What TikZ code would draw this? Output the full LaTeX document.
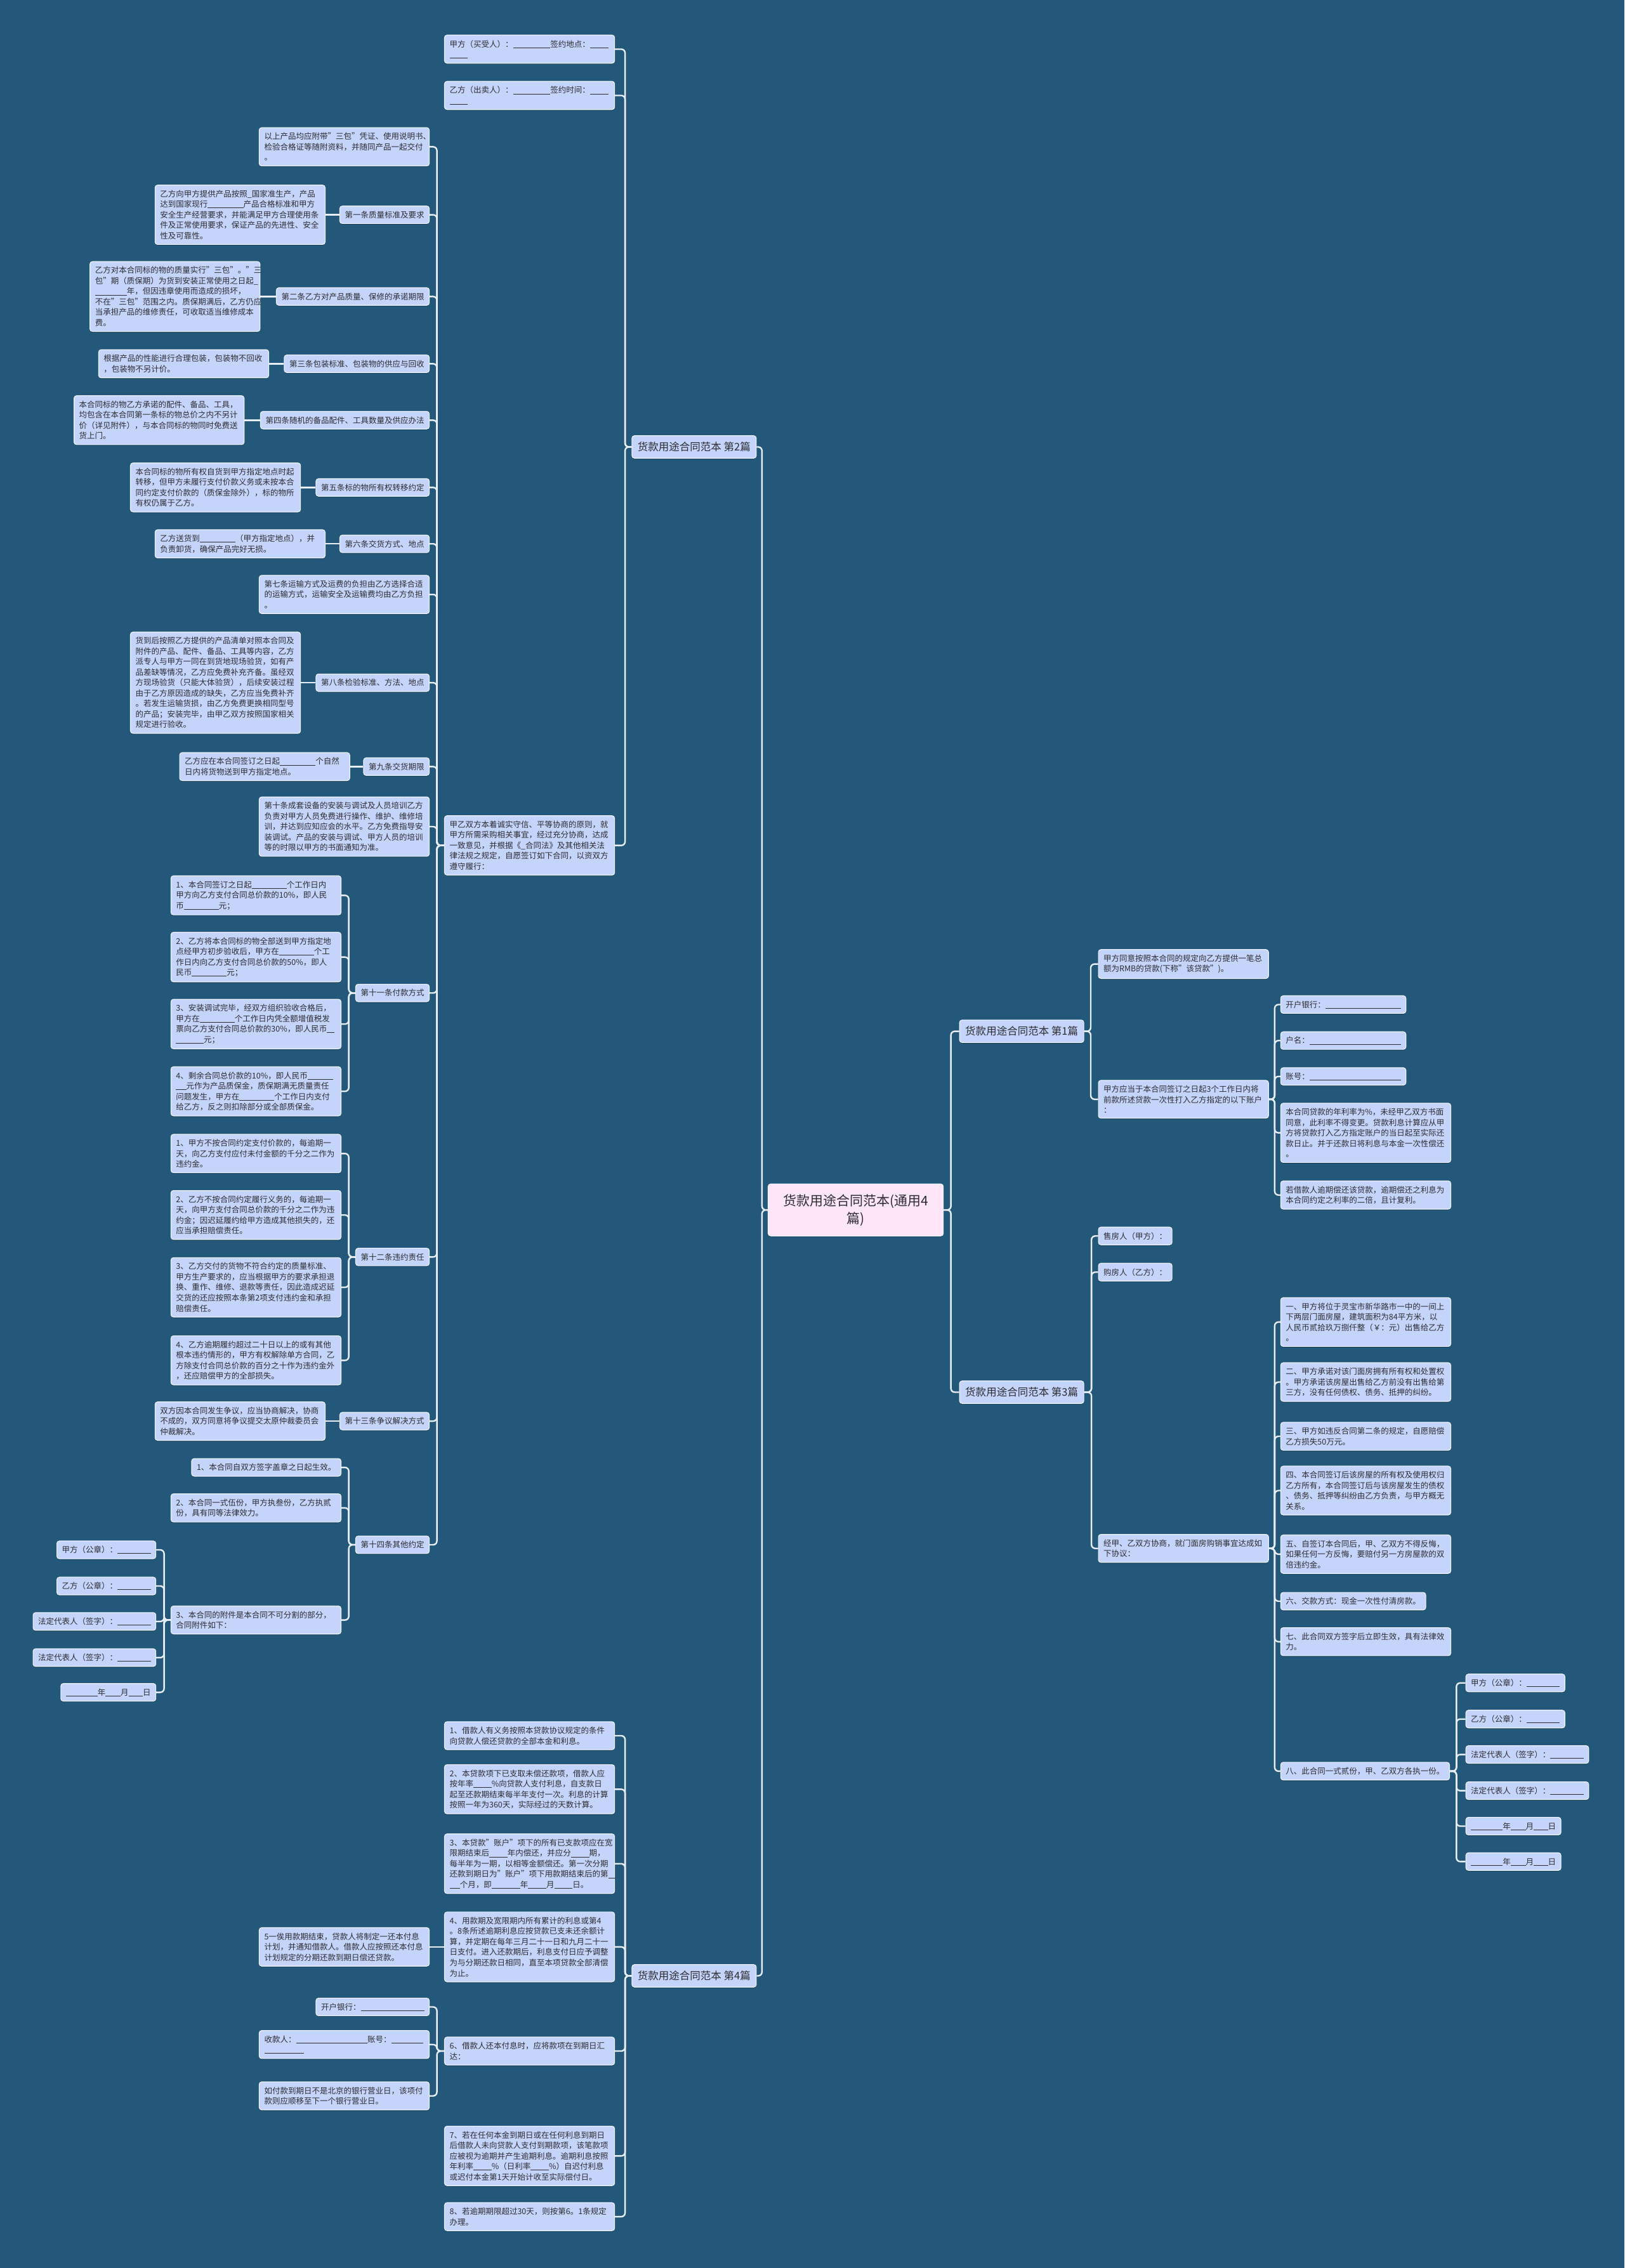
\documentclass[tikz,border=0pt]{standalone}
\usepackage{fontspec}
\setmainfont{Noto Sans CJK SC}
\usetikzlibrary{shadows}
\definecolor{bgblue}{RGB}{35,88,122}
\definecolor{nodefill}{RGB}{196,212,250}
\definecolor{nodeline}{RGB}{235,242,255}
\definecolor{linecol}{RGB}{232,238,245}
\definecolor{rootfill}{RGB}{253,230,248}
\definecolor{txt}{RGB}{45,45,50}
\newcommand{\fillin}[1]{\rule[-1.2pt]{#1}{0.6pt}}
\tikzset{
  box/.style={draw=nodeline, line width=1.2pt, fill=nodefill, rounded corners=4pt, text=txt,
    font=\fontsize{12.5pt}{16.5pt}\selectfont, inner xsep=8pt, inner ysep=8pt, align=left,
    drop shadow={shadow xshift=0pt, shadow yshift=-1.5pt, opacity=.3, fill=black}},
  para/.style={box, text width=252pt},
  branch/.style={box, font=\fontsize{16.5pt}{20pt}\selectfont, inner xsep=9pt, inner ysep=10pt},
  root/.style={box, fill=rootfill, font=\fontsize{21pt}{28pt}\selectfont, align=center,
    text width=240pt, inner xsep=18pt, inner ysep=16pt},
  link/.style={draw=linecol, line width=2.4pt, rounded corners=6pt}
}

\begin{document}
\begin{tikzpicture}[x=2.2796pt,y=-2.2796pt]
    \fill[bgblue] (0,0) rectangle (1123,1568);
    \useasboundingbox (0,0) rectangle (1123,1568);

    % centre and the four parts
    \node[root] (root) at (591.5,836.5) {货款用途合同范本(通用4\\篇)};
    \node[branch,anchor=east] (b2) at (523,309) {货款用途合同范本 第2篇};
    \node[branch,anchor=east] (b4) at (523,1366) {货款用途合同范本 第4篇};
    \node[branch,anchor=west] (b1) at (663,713) {货款用途合同范本 第1篇};
    \node[branch,anchor=west] (b3) at (663,962.5) {货款用途合同范本 第3篇};

    % part 2
    \node[para,anchor=west] (t1) at (307,34) {甲方（买受人）：\fillin{4.7em}签约地点：\fillin{2.3em}\\\fillin{2.3em}};
    \node[para,anchor=west] (t2) at (307,66) {乙方（出卖人）：\fillin{4.7em}签约时间：\fillin{2.3em}\\\fillin{2.3em}};
    \node[para,anchor=west] (main) at (307,584.5) {甲乙双方本着诚实守信、平等协商的原则，就\\甲方所需采购相关事宜，经过充分协商，达成\\一致意见，并根据《\_合同法》及其他相关法\\律法规之规定，自愿签订如下合同，以资双方\\遵守履行：};

    \node[para,anchor=east] (c0) at (297,101.5) {以上产品均应附带"三包"凭证、使用说明书、\\检验合格证等随附资料，并随同产品一起交付\\。};
    \node[box,anchor=east] (c1) at (297,148.5) {第一条质量标准及要求};
    \node[para,anchor=east] (d1) at (225,148.5) {乙方向甲方提供产品按照\_国家准生产，产品\\达到国家现行\fillin{4.5em}产品合格标准和甲方\\安全生产经营要求，并能满足甲方合理使用条\\件及正常使用要求，保证产品的先进性、安全\\性及可靠性。};
    \node[box,anchor=east] (c2) at (297,205) {第二条乙方对产品质量、保修的承诺期限};
    \node[para,anchor=east] (d2) at (180,205) {乙方对本合同标的物的质量实行"三包"。"三\\包"期（质保期）为货到安装正常使用之日起\_\\\fillin{4em}年，但因违章使用而造成的损坏，\\不在"三包"范围之内。质保期满后，乙方仍应\\当承担产品的维修责任，可收取适当维修成本\\费。};
    \node[box,anchor=east] (c3) at (297,251.5) {第三条包装标准、包装物的供应与回收};
    \node[para,anchor=east] (d3) at (186,251.5) {根据产品的性能进行合理包装，包装物不回收\\，包装物不另计价。};
    \node[box,anchor=east] (c4) at (297,290.5) {第四条随机的备品配件、工具数量及供应办法};
    \node[para,anchor=east] (d4) at (169,290.5) {本合同标的物乙方承诺的配件、备品、工具，\\均包含在本合同第一条标的物总价之内不另计\\价（详见附件），与本合同标的物同时免费送\\货上门。};
    \node[box,anchor=east] (c5) at (297,337) {第五条标的物所有权转移约定};
    \node[para,anchor=east] (d5) at (208,337) {本合同标的物所有权自货到甲方指定地点时起\\转移，但甲方未履行支付价款义务或未按本合\\同约定支付价款的（质保金除外），标的物所\\有权仍属于乙方。};
    \node[box,anchor=east] (c6) at (297,376) {第六条交货方式、地点};
    \node[para,anchor=east] (d6) at (225,376) {乙方送货到\fillin{4.5em}（甲方指定地点），并\\负责卸货，确保产品完好无损。};
    \node[para,anchor=east] (c7) at (297,411) {第七条运输方式及运费的负担由乙方选择合适\\的运输方式，运输安全及运输费均由乙方负担\\。};
    \node[box,anchor=east] (c8) at (297,472) {第八条检验标准、方法、地点};
    \node[para,anchor=east] (d8) at (208,472) {货到后按照乙方提供的产品清单对照本合同及\\附件的产品、配件、备品、工具等内容，乙方\\派专人与甲方一同在到货地现场验货，如有产\\品差缺等情况，乙方应免费补充齐备。虽经双\\方现场验货（只能大体验货），后续安装过程\\由于乙方原因造成的缺失，乙方应当免费补齐\\。若发生运输货损，由乙方免费更换相同型号\\的产品；安装完毕，由甲乙双方按照国家相关\\规定进行验收。};
    \node[box,anchor=east] (c9) at (297,530) {第九条交货期限};
    \node[para,anchor=east] (d9) at (242,530) {乙方应在本合同签订之日起\fillin{4.5em}个自然\\日内将货物送到甲方指定地点。};
    \node[para,anchor=east] (c10) at (297,571.5) {第十条成套设备的安装与调试及人员培训乙方\\负责对甲方人员免费进行操作、维护、维修培\\训，并达到应知应会的水平。乙方免费指导安\\装调试。产品的安装与调试、甲方人员的培训\\等的时限以甲方的书面通知为准。};

    \node[box,anchor=east] (c11) at (297,686.5) {第十一条付款方式};
    \node[para,anchor=east] (p1) at (236,619) {1、本合同签订之日起\fillin{4.4em}个工作日内\\甲方向乙方支付合同总价款的10\%，即人民\\币\fillin{4.4em}元；};
    \node[para,anchor=east] (p2) at (236,661.7) {2、乙方将本合同标的物全部送到甲方指定地\\点经甲方初步验收后，甲方在\fillin{4.4em}个工\\作日内向乙方支付合同总价款的50\%，即人\\民币\fillin{4.4em}元；};
    \node[para,anchor=east] (p3) at (236,708) {3、安装调试完毕，经双方组织验收合格后，\\甲方在\fillin{4.4em}个工作日内凭全额增值税发\\票向乙方支付合同总价款的30\%，即人民币\fillin{0.9em}\\\fillin{3.5em}元；};
    \node[para,anchor=east] (p4) at (236,754.5) {4、剩余合同总价款的10\%，即人民币\fillin{3.2em}\\\fillin{1.3em}元作为产品质保金，质保期满无质量责任\\问题发生，甲方在\fillin{4.4em}个工作日内支付\\给乙方，反之则扣除部分或全部质保金。};

    \node[box,anchor=east] (c12) at (297,869) {第十二条违约责任};
    \node[para,anchor=east] (q1) at (236,797.5) {1、甲方不按合同约定支付价款的，每逾期一\\天，向乙方支付应付未付金额的千分之二作为\\违约金。};
    \node[para,anchor=east] (q2) at (236,840) {2、乙方不按合同约定履行义务的，每逾期一\\天，向甲方支付合同总价款的千分之二作为违\\约金；因迟延履约给甲方造成其他损失的，还\\应当承担赔偿责任。};
    \node[para,anchor=east] (q3) at (236,890) {3、乙方交付的货物不符合约定的质量标准、\\甲方生产要求的，应当根据甲方的要求承担退\\换、重作、维修、退款等责任，因此造成迟延\\交货的还应按照本条第2项支付违约金和承担\\赔偿责任。};
    \node[para,anchor=east] (q4) at (236,940.5) {4、乙方逾期履约超过二十日以上的或有其他\\根本违约情形的，甲方有权解除单方合同，乙\\方除支付合同总价款的百分之十作为违约金外\\，还应赔偿甲方的全部损失。};

    \node[box,anchor=east] (c13) at (297,982.5) {第十三条争议解决方式};
    \node[para,anchor=east] (d13) at (225,982.5) {双方因本合同发生争议，应当协商解决，协商\\不成的，双方同意将争议提交太原仲裁委员会\\仲裁解决。};

    \node[box,anchor=east] (c14) at (297,1068) {第十四条其他约定};
    \node[box,anchor=east] (r1) at (236,1014.5) {1、本合同自双方签字盖章之日起生效。};
    \node[para,anchor=east] (r2) at (236,1042.5) {2、本合同一式伍份，甲方执叁份，乙方执贰\\份，具有同等法律效力。};
    \node[para,anchor=east] (r3) at (236,1120) {3、本合同的附件是本合同不可分割的部分，\\合同附件如下：};
    \node[box,anchor=east] (s1) at (108,1071.5) {甲方（公章）：\fillin{4.2em}};
    \node[box,anchor=east] (s2) at (108,1096.5) {乙方（公章）：\fillin{4.2em}};
    \node[box,anchor=east] (s3) at (108,1121) {法定代表人（签字）：\fillin{4.2em}};
    \node[box,anchor=east] (s4) at (108,1146) {法定代表人（签字）：\fillin{4.2em}};
    \node[box,anchor=east] (s5) at (108,1170) {\fillin{4em}年\fillin{1.9em}月\fillin{1.8em}日};

    % part 4
    \node[para,anchor=west] (k1) at (307,1200) {1、借款人有义务按照本贷款协议规定的条件\\向贷款人偿还贷款的全部本金和利息。};
    \node[para,anchor=west] (k2) at (307,1237) {2、本贷款项下已支取未偿还款项，借款人应\\按年率\fillin{2.3em}\%向贷款人支付利息，自支款日\\起至还款期结束每半年支付一次。利息的计算\\按照一年为360天，实际经过的天数计算。};
    \node[para,anchor=west] (k3) at (307,1288.5) {3、本贷款"账户"项下的所有已支款项应在宽\\限期结束后\fillin{2.3em}年内偿还，并应分\fillin{2.3em}期，\\每半年为一期，以相等金额偿还。第一次分期\\还款到期日为"账户"项下用款期结束后的第\fillin{0.9em}\\\fillin{1.3em}个月，即\fillin{3.6em}年\fillin{2.3em}月\fillin{2.3em}日。};
    \node[para,anchor=west] (k4) at (307,1346) {4、用款期及宽限期内所有累计的利息或第4\\。8条所述逾期利息应按贷款已支未还余额计\\算，并定期在每年三月二十一日和九月二十一\\日支付。进入还款期后，利息支付日应予调整\\为与分期还款日相同，直至本项贷款全部清偿\\为止。};
    \node[para,anchor=east] (k5) at (297,1346) {5一俟用款期结束，贷款人将制定一还本付息\\计划，并通知借款人。借款人应按照还本付息\\计划规定的分期还款到期日偿还贷款。};
    \node[para,anchor=west] (k6) at (307,1418) {6、借款人还本付息时，应将款项在到期日汇\\达：};
    \node[box,anchor=east] (m1) at (297,1387.5) {开户银行：\fillin{8em}};
    \node[para,anchor=east] (m2) at (297,1413.5) {收款人：\fillin{9em}账号：\fillin{4em}\\\fillin{5em}};
    \node[para,anchor=east] (m3) at (297,1449) {如付款到期日不是北京的银行营业日，该项付\\款则应顺移至下一个银行营业日。};
    \node[para,anchor=west] (k7) at (307,1490.5) {7、若在任何本金到期日或在任何利息到期日\\后借款人未向贷款人支付到期款项，该笔款项\\应被视为逾期并产生逾期利息。逾期利息按照\\年利率\fillin{2.3em}\%（日利率\fillin{2.3em}\%）自迟付利息\\或迟付本金第1天开始计收至实际偿付日。};
    \node[para,anchor=west] (k8) at (307,1532.5) {8、若逾期期限超过30天，则按第6。1条规定\\办理。};

    % part 1
    \node[para,anchor=west] (e1) at (759,666.5) {甲方同意按照本合同的规定向乙方提供一笔总\\额为RMB的贷款(下称"该贷款")。};
    \node[para,anchor=west] (e2) at (759,760) {甲方应当于本合同签订之日起3个工作日内将\\前款所述贷款一次性打入乙方指定的以下账户\\：};
    \node[box,anchor=west] (f1) at (885,694.5) {开户银行：\fillin{9.5em}};
    \node[box,anchor=west] (f2) at (885,719.4) {户名：\fillin{11.5em}};
    \node[box,anchor=west] (f3) at (885,744.2) {账号：\fillin{11.5em}};
    \node[para,anchor=west] (f4) at (885,783.2) {本合同贷款的年利率为\%，未经甲乙双方书面\\同意，此利率不得变更。贷款利息计算应从甲\\方将贷款打入乙方指定账户的当日起至实际还\\款日止。并于还款日将利息与本金一次性偿还\\。};
    \node[para,anchor=west] (f5) at (885,826.2) {若借款人逾期偿还该贷款，逾期偿还之利息为\\本合同约定之利率的二倍，且计复利。};

    % part 3
    \node[box,anchor=west] (g1) at (759,854.5) {售房人（甲方）：};
    \node[box,anchor=west] (g2) at (759,879.5) {购房人（乙方）：};
    \node[para,anchor=west] (g3) at (759,1070.5) {经甲、乙双方协商，就门面房购销事宜达成如\\下协议：};
    \node[para,anchor=west] (h1) at (885,914) {一、甲方将位于灵宝市新华路市一中的一间上\\下两层门面房屋，建筑面积为84平方米，以\\人民币贰拾玖万捌仟整（￥：元）出售给乙方\\。};
    \node[para,anchor=west] (h2) at (885,955.5) {二、甲方承诺对该门面房拥有所有权和处置权\\。甲方承诺该房屋出售给乙方前没有出售给第\\三方，没有任何债权、债务、抵押的纠纷。};
    \node[para,anchor=west] (h3) at (885,993) {三、甲方如违反合同第二条的规定，自愿赔偿\\乙方损失50万元。};
    \node[para,anchor=west] (h4) at (885,1030.5) {四、本合同签订后该房屋的所有权及使用权归\\乙方所有，本合同签订后与该房屋发生的债权\\、债务、抵押等纠纷由乙方负责，与甲方概无\\关系。};
    \node[para,anchor=west] (h5) at (885,1074.5) {五、自签订本合同后，甲、乙双方不得反悔，\\如果任何一方反悔，要赔付另一方房屋款的双\\倍违约金。};
    \node[box,anchor=west] (h6) at (885,1107) {六、交款方式：现金一次性付清房款。};
    \node[para,anchor=west] (h7) at (885,1135) {七、此合同双方签字后立即生效，具有法律效\\力。};
    \node[box,anchor=west] (h8) at (885,1224.5) {八、此合同一式贰份，甲、乙双方各执一份。};
    \node[box,anchor=west] (w1) at (1013,1163.5) {甲方（公章）：\fillin{4.2em}};
    \node[box,anchor=west] (w2) at (1013,1188.5) {乙方（公章）：\fillin{4.2em}};
    \node[box,anchor=west] (w3) at (1013,1213) {法定代表人（签字）：\fillin{4.2em}};
    \node[box,anchor=west] (w4) at (1013,1238) {法定代表人（签字）：\fillin{4.2em}};
    \node[box,anchor=west] (w5) at (1013,1262.5) {\fillin{4em}年\fillin{1.9em}月\fillin{1.8em}日};
    \node[box,anchor=west] (w6) at (1013,1287) {\fillin{4em}年\fillin{1.9em}月\fillin{1.8em}日};

    % connectors
    \foreach \c in {b2,b4} \draw[link] (root.west) -- ++(-4,0) |- (\c.east);
    \foreach \c in {b1,b3} \draw[link] (root.east) -- ++(5,0) |- (\c.west);
    \foreach \c in {t1,t2,main} \draw[link] (b2.west) -- ++(-4.5,0) |- (\c.east);
    \foreach \c in {c0,c1,c2,c3,c4,c5,c6,c7,c8,c9,c10,c11,c12,c13,c14}
        \draw[link] (main.west) -- ++(-5,0) |- (\c.east);
    \foreach \a/\b in {c1/d1,c2/d2,c3/d3,c4/d4,c5/d5,c6/d6,c8/d8,c9/d9,c13/d13,k4/k5}
        \draw[link] (\a.west) -- (\b.east);
    \foreach \c in {p1,p2,p3,p4} \draw[link] (c11.west) -- ++(-4.5,0) |- (\c.east);
    \foreach \c in {q1,q2,q3,q4} \draw[link] (c12.west) -- ++(-4.5,0) |- (\c.east);
    \foreach \c in {r1,r2,r3} \draw[link] (c14.west) -- ++(-4.5,0) |- (\c.east);
    \foreach \c in {s1,s2,s3,s4,s5} \draw[link] (r3.west) -- ++(-4.5,0) |- (\c.east);
    \foreach \c in {k1,k2,k3,k4,k6,k7,k8} \draw[link] (b4.west) -- ++(-4.5,0) |- (\c.east);
    \foreach \c in {m1,m2,m3} \draw[link] (k6.west) -- ++(-5,0) |- (\c.east);
    \foreach \c in {e1,e2} \draw[link] (b1.east) -- ++(4.5,0) |- (\c.west);
    \foreach \c in {f1,f2,f3,f4,f5} \draw[link] (e2.east) -- ++(4,0) |- (\c.west);
    \foreach \c in {g1,g2,g3} \draw[link] (b3.east) -- ++(5,0) |- (\c.west);
    \foreach \c in {h1,h2,h3,h4,h5,h6,h7,h8} \draw[link] (g3.east) -- ++(4,0) |- (\c.west);
    \foreach \c in {w1,w2,w3,w4,w5,w6} \draw[link] (h8.east) -- ++(4.5,0) |- (\c.west);
\end{tikzpicture}
\end{document}
